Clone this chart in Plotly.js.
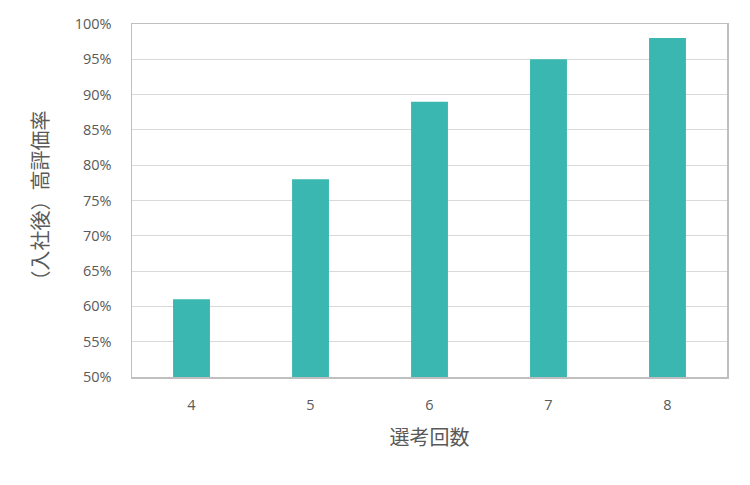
<!DOCTYPE html>
<html>
<head>
<meta charset="utf-8">
<script src="https://cdn.plot.ly/plotly-3.0.1.min.js"></script>
<style>html,body{margin:0;padding:0;background:#fff;}#chart{width:750px;height:485px;}</style>
</head>
<body>
<div id="chart"></div>
<script>
const categories = ['4', '5', '6', '7', '8'];
const rates = [61, 78, 89, 95, 98];
const yTickValues = [50, 55, 60, 65, 70, 75, 80, 85, 90, 95, 100];
const yTickLabels = ['50%', '55%', '60%', '65%', '70%', '75%', '80%', '85%', '90%', '95%', '100%'];
const xTitle = '選考回数';
const yTitle = '（入社後）高評価率';

const fontFamily = '"Open Sans", "Noto Sans CJK JP", sans-serif';

Plotly.newPlot('chart', [{
  type: 'bar',
  x: categories,
  y: rates,
  marker: {color: '#3AB7B0', line: {width: 0}},
  hoverinfo: 'skip'
}], {
  width: 750,
  height: 485,
  margin: {l: 132, r: 23, t: 24, b: 108},
  paper_bgcolor: '#ffffff',
  plot_bgcolor: '#ffffff',
  bargap: 0.69,
  showlegend: false,
  font: {family: fontFamily, color: '#595959', size: 14},
  xaxis: {
    type: 'category',
    showline: true,
    linecolor: '#bfbfbf',
    linewidth: 1.5,
    mirror: true,
    showgrid: false,
    ticks: '',
    ticklabelstandoff: 14,
    tickfont: {size: 14.5, color: '#595959'},
    title: {text: xTitle, font: {size: 20, color: '#595959'}, standoff: 18}
  },
  yaxis: {
    range: [50, 100],
    tickmode: 'array',
    tickvals: yTickValues,
    ticktext: yTickLabels,
    showline: true,
    linecolor: '#bfbfbf',
    linewidth: 1.5,
    mirror: true,
    showgrid: true,
    gridcolor: '#d9d9d9',
    gridwidth: 1,
    zeroline: false,
    ticks: '',
    ticklabelstandoff: 16,
    tickfont: {size: 14.5, color: '#595959'},
    title: {text: yTitle, font: {size: 20, color: '#595959'}, standoff: 20}
  }
}, {staticPlot: true, displayModeBar: false});
</script>
</body>
</html>
